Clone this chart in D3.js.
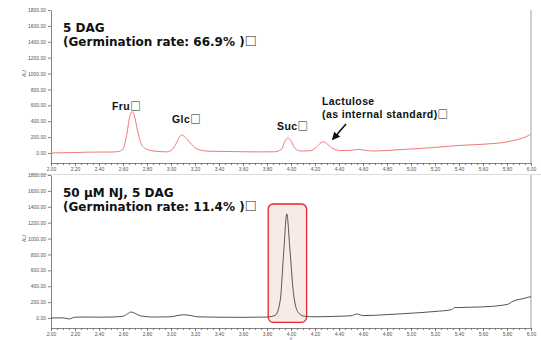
<!DOCTYPE html>
<html>
<head>
<meta charset="utf-8">
<script src="https://cdn.jsdelivr.net/npm/d3@7/dist/d3.min.js"></script>
<style>
  body { margin: 0; background: #fff; }
  svg { display: block; }
  .tick text { font-family: "Liberation Sans", Arial, sans-serif; font-size: 5px; fill: #555; }
  .tick line, .domain { stroke: #666; stroke-width: 0.8; }
  .title { font-family: "DejaVu Sans", sans-serif; font-weight: bold; font-size: 12px; fill: #111; }
  .note { font-family: "Liberation Sans", Arial, sans-serif; font-weight: bold; font-size: 10.5px; fill: #111; letter-spacing: 0.4px; }
  .box { font-family: "Noto Sans CJK JP", sans-serif; font-weight: bold; }
</style>
</head>
<body>
<div id="chart"></div>
<script>
// retention time (min) and detector response (AU)
var topTime = [2.00, 2.10, 2.20, 2.30, 2.40, 2.50, 2.56, 2.60, 2.63, 2.655, 2.675, 2.695, 2.72, 2.76, 2.82, 2.90, 2.96, 3.00, 3.04, 3.07, 3.09, 3.12, 3.17, 3.23, 3.32, 3.50, 3.70, 3.86, 3.92, 3.95, 3.975, 3.995, 4.03, 4.08, 4.16, 4.22, 4.25, 4.275, 4.30, 4.35, 4.42, 4.50, 4.56, 4.61, 4.68, 4.80, 5.00, 5.20, 5.40, 5.60, 5.80, 5.90, 5.96, 6.00];
var topAU   = [0, 3, 6, 10, 12, 12, 18, 50, 220, 450, 520, 470, 290, 90, 35, 18, 14, 30, 110, 200, 225, 195, 110, 42, 22, 18, 14, 15, 45, 150, 190, 165, 65, 25, 28, 85, 130, 140, 115, 55, 30, 33, 45, 36, 25, 32, 50, 70, 95, 110, 140, 175, 205, 240];

var botTime = [2.00, 2.10, 2.15, 2.20, 2.30, 2.40, 2.50, 2.60, 2.64, 2.67, 2.70, 2.75, 2.85, 3.00, 3.05, 3.10, 3.15, 3.22, 3.40, 3.60, 3.80, 3.87, 3.91, 3.94, 3.965, 3.99, 4.02, 4.06, 4.11, 4.20, 4.40, 4.50, 4.55, 4.60, 4.80, 5.00, 5.20, 5.34, 5.36, 5.60, 5.80, 5.85, 5.95, 6.00];
var botAU   = [0, 2, -12, 10, 12, 10, 12, 22, 55, 75, 58, 25, 12, 15, 30, 40, 35, 15, 10, 8, 12, 35, 220, 850, 1310, 880, 320, 70, 22, 15, 22, 28, 50, 30, 42, 60, 82, 105, 130, 140, 170, 210, 250, 270];

// highlighted Suc peak box (time range, AU range)
var boxTime = [3.81, 4.13];
var boxAU = [-55, 1435];

var yTicks = [0, 200, 400, 600, 800, 1000, 1200, 1400, 1600, 1800];

var width = 541;
var height = 340;

var svg = d3.select('#chart').append('svg')
    .attr('width', width)
    .attr('height', height);

var x = d3.scaleLinear().domain([2, 6]).range([51, 531]);
var yTop = d3.scaleLinear().domain([-126, 1800]).range([163, 10]);
var yBot = d3.scaleLinear().domain([-126, 1800]).range([328, 175]);

// faint separator between the two traces
svg.append('line')
    .attr('x1', 30).attr('x2', width)
    .attr('y1', 174.5).attr('y2', 174.5)
    .attr('stroke', '#ddd').attr('stroke-width', 1);

function drawPanel (y, axisTitle) {
    var g = svg.append('g');

    // minor x ticks
    g.append('g')
        .attr('transform', 'translate(0,' + y.range()[0] + ')')
        .call(d3.axisBottom(x).tickValues(d3.range(2, 6.001, 0.05)).tickSize(2).tickFormat(''))
        .call(a => a.select('.domain').remove());

    g.append('g')
        .attr('transform', 'translate(0,' + y.range()[0] + ')')
        .call(d3.axisBottom(x).tickValues(d3.range(2, 6.001, 0.2)).tickSize(3).tickPadding(1.5).tickSizeOuter(0).tickFormat(d3.format('.2f')));

    g.append('g')
        .attr('transform', 'translate(' + x.range()[0] + ',0)')
        .call(d3.axisLeft(y).tickValues(yTicks).tickSize(3).tickPadding(2).tickSizeOuter(0).tickFormat(d3.format('.2f')));

    // right frame
    g.append('line')
        .attr('x1', x.range()[1]).attr('x2', x.range()[1])
        .attr('y1', y.range()[1]).attr('y2', y.range()[0])
        .attr('stroke', '#888').attr('stroke-width', 0.8);

    g.append('text')
        .attr('transform', 'translate(26,' + y(1000) + ') rotate(-90)')
        .attr('text-anchor', 'middle')
        .style('font-family', 'Liberation Sans, sans-serif')
        .style('font-size', '5px')
        .attr('fill', '#555')
        .text('AU');

    if (axisTitle) {
        g.append('text')
            .attr('x', x(4))
            .attr('y', 339.8)
            .attr('text-anchor', 'middle')
            .style('font-family', 'Noto Sans CJK JP, sans-serif')
            .style('font-size', '3px')
            .attr('fill', '#555')
            .text(axisTitle);
    }

    return g;
}

var gTop = drawPanel(yTop, null);
var gBot = drawPanel(yBot, '分');

// highlight box behind the bottom trace
gBot.append('rect')
    .attr('x', x(boxTime[0]))
    .attr('y', yBot(boxAU[1]))
    .attr('width', x(boxTime[1]) - x(boxTime[0]))
    .attr('height', yBot(boxAU[0]) - yBot(boxAU[1]))
    .attr('rx', 5)
    .attr('fill', '#f7ebe6')
    .attr('stroke', '#e8252a')
    .attr('stroke-width', 1.3);

function trace (g, y, time, au, color) {
    var line = d3.line()
        .x(function (d) { return x(d[0]); })
        .y(function (d) { return y(d[1]); })
        .curve(d3.curveMonotoneX);
    g.append('path')
        .datum(time.map(function (t, i) { return [t, au[i]]; }))
        .attr('d', line)
        .attr('fill', 'none')
        .attr('stroke', color)
        .attr('stroke-width', 1);
}

trace(gTop, yTop, topTime, topAU, '#f07a7a');
trace(gBot, yBot, botTime, botAU, '#555');

// text with a trailing box glyph drawn from a CJK font
function label (cls, txt, px, py) {
    var t = svg.append('text').attr('class', cls).attr('x', px).attr('y', py);
    var hasBox = txt.endsWith('□');
    t.append('tspan').text(hasBox ? txt.slice(0, -1) : txt);
    if (hasBox) {
        t.append('tspan').attr('class', 'box').text('□');
    }
}

// titles
label('title', '5 DAG', 63, 32);
label('title', '(Germination rate: 66.9% )□', 63, 46);
label('title', '50 µM NJ, 5 DAG', 63, 197);
label('title', '(Germination rate: 11.4% )□', 63, 211);

// peak labels
var notes = [
    ['Fru□', 112, 110],
    ['Glc□', 172, 123],
    ['Suc□', 277, 130],
    ['Lactulose', 322, 105],
    ['(as internal standard)□', 322, 118]
];
notes.forEach(function (d) { label('note', d[0], d[1], d[2]); });

// arrow to the internal standard peak
svg.append('defs').append('marker')
    .attr('id', 'head')
    .attr('viewBox', '0 0 10 10')
    .attr('refX', 8).attr('refY', 5)
    .attr('markerWidth', 5).attr('markerHeight', 5)
    .attr('orient', 'auto')
    .append('path')
    .attr('d', 'M0,0L10,5L0,10z')
    .attr('fill', '#111');

svg.append('line')
    .attr('x1', 346).attr('y1', 124)
    .attr('x2', 333).attr('y2', 139)
    .attr('stroke', '#111')
    .attr('stroke-width', 1.6)
    .attr('marker-end', 'url(#head)');
</script>
</body>
</html>
